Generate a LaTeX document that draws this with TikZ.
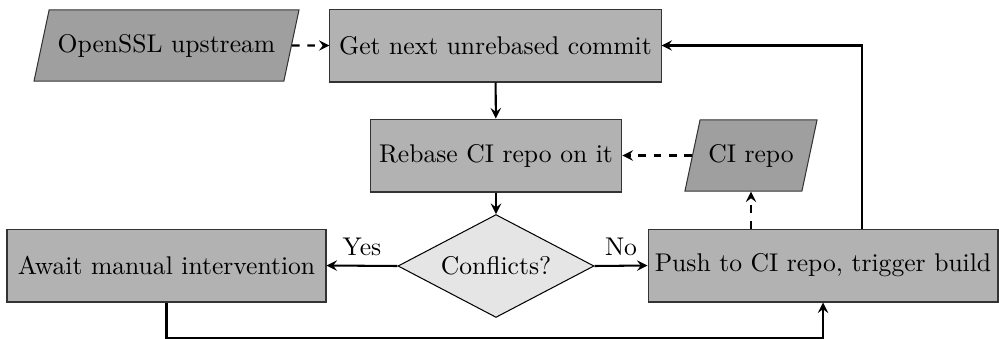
\documentclass[tikz,border=0pt]{standalone}
\usetikzlibrary{shapes.geometric,arrows}
\begin{document}
\begin{tikzpicture}[x=0.3906pt,y=-0.3906pt,>=stealth,
  every node/.style={font=\normalsize},
  procbox/.style={rectangle,draw=black!80,fill=gray!60,minimum height=28.5pt,inner sep=2pt},
  databox/.style={trapezium,trapezium left angle=78,trapezium right angle=102,
    trapezium stretches body,draw=black!80,fill=gray!75,inner xsep=2pt,inner ysep=9.4pt},
  decision/.style={diamond,draw=black,fill=gray!20,aspect=1.9,inner sep=0pt,
    minimum width=76.6pt,minimum height=40.2pt},
  flow/.style={->,thick},
  dataflow/.style={->,thick,dashed}]
\useasboundingbox (0,0) rectangle (999,338);

\node[databox,minimum width=103.5pt] (up) at (166.5,45.5) {OpenSSL upstream};
\node[procbox,minimum width=129.3pt] (get) at (495.5,45.5) {Get next unrebased commit};
\node[procbox,minimum width=98.4pt] (reb) at (496,155.5) {Rebase CI repo on it};
\node[databox,minimum width=51.6pt] (ci) at (751,155.5) {CI repo};
\node[decision] (conf) at (496,266) {Conflicts?};
\node[procbox,minimum width=124.6pt] (aw) at (166.5,265.5) {Await manual intervention};
\node[procbox,minimum width=136.7pt] (push) at (823,265.5) {Push to CI repo, trigger build};

\coordinate (loop) at (862,229);
\coordinate (low) at (166.5,337.8);

\draw[dataflow] (up.east) -- (get.west);
\draw[flow] (get) -- (reb);
\draw[dataflow] (ci.west) -- (reb.east);
\draw[flow] (reb) -- (conf);
\draw[flow] (conf.west) -- node[above] {Yes} (aw.east);
\draw[flow] (conf.east) -- node[above] {No} (push.west);
\draw[dataflow] (push.north -| ci.south) -- (ci.south);
\draw[flow] (loop) |- (get.east);
\draw[flow] (aw.south) -- (low) -| (push.south);
\end{tikzpicture}
\end{document}
